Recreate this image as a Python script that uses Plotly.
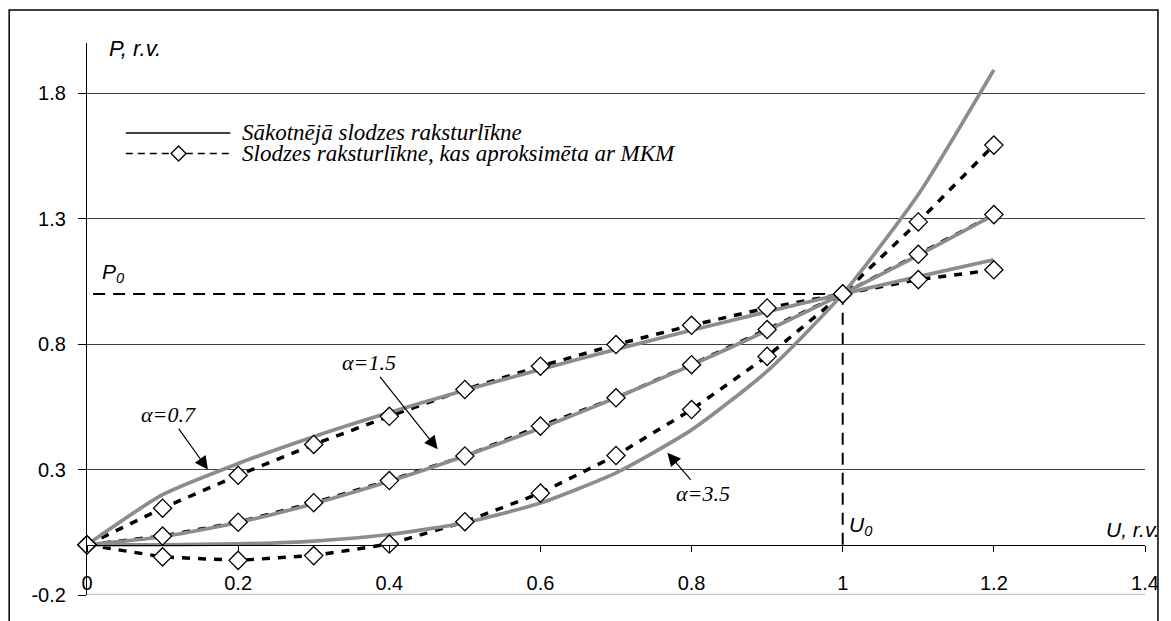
import plotly.graph_objects as go

# ---- data ----
U = [0, 0.1, 0.2, 0.3, 0.4, 0.5, 0.6, 0.7, 0.8, 0.9, 1.0, 1.1, 1.2]

orig_07 = [0, 0.20, 0.324, 0.431, 0.527, 0.616, 0.699, 0.779, 0.855, 0.929, 1.0, 1.069, 1.136]
orig_15 = [0, 0.032, 0.089, 0.164, 0.253, 0.354, 0.465, 0.586, 0.716, 0.854, 1.0, 1.154, 1.315]
orig_35 = [0, 0.0003, 0.0036, 0.015, 0.041, 0.088, 0.167, 0.287, 0.458, 0.692, 1.0, 1.396, 1.893]

mkm_07 = [0, 0.146, 0.277, 0.400, 0.512, 0.619, 0.712, 0.798, 0.875, 0.944, 1.0, 1.057, 1.096]
mkm_15 = [0, 0.035, 0.090, 0.168, 0.256, 0.354, 0.473, 0.586, 0.718, 0.858, 1.0, 1.158, 1.316]
mkm_35 = [0, -0.048, -0.062, -0.043, 0.003, 0.092, 0.206, 0.356, 0.539, 0.751, 1.0, 1.287, 1.593]

x_ticks = [0, 0.2, 0.4, 0.6, 0.8, 1.0, 1.2, 1.4]
x_ticktext = ["0", "0.2", "0.4", "0.6", "0.8", "1", "1.2", "1.4"]
y_ticks = [-0.2, 0.3, 0.8, 1.3, 1.8]
y_ticktext = ["-0.2", "0.3", "0.8", "1.3", "1.8"]

legend_labels = ["Sākotnējā slodzes raksturlīkne",
                 "Slodzes raksturlīkne, kas aproksimēta ar MKM"]
alpha_labels = ["α=0.7", "α=1.5", "α=3.5"]
alpha_text_pos = [(0.108, 0.519), (0.373, 0.725), (0.815, 0.203)]
alpha_tip_pos = [(0.16, 0.30), (0.464, 0.381), (0.768, 0.367)]

P0, U0 = 1.0, 1.0

GRAY = "#8c8c8c"
SANS = "Liberation Sans, Arial, sans-serif"
SERIF = "Liberation Serif, Times New Roman, serif"

# page has an 8px body margin -> figure is drawn 8px right/down
OFF = 8
FW, FH = 1171 - OFF, 621 - OFF

fig = go.Figure()

# dashed approximation lines (under gray curves)
for ys in (mkm_07, mkm_15, mkm_35):
    fig.add_trace(go.Scatter(x=U, y=ys, mode="lines",
                             line=dict(color="black", width=3.5, dash="8px,8px"),
                             showlegend=False, hoverinfo="skip"))
# original curves (smoothed)
for ys in (orig_07, orig_15, orig_35):
    fig.add_trace(go.Scatter(x=U, y=ys, mode="lines",
                             line=dict(color=GRAY, width=3.7, shape="spline", smoothing=0.6),
                             showlegend=False, hoverinfo="skip"))
# diamond markers
for ys in (mkm_07, mkm_15, mkm_35):
    fig.add_trace(go.Scatter(x=U, y=ys, mode="markers",
                             marker=dict(symbol="diamond", size=14, color="white",
                                         line=dict(color="black", width=1.3)),
                             cliponaxis=False, showlegend=False, hoverinfo="skip"))

# geometry helpers (page pixels -> paper coords)
L, R, T, B = 87 - OFF, 1150 - OFF, 43 - OFF, 595 - OFF
W, H = R - L, B - T
def px(xp): return (xp - OFF - L) / W
def py(yp): return (B - (yp - OFF)) / H

shapes = []
# outer frame
shapes.append(dict(type="rect", xref="paper", yref="paper",
                   x0=px(8.8), x1=px(1163), y0=py(640), y1=py(10),
                   line=dict(color="black", width=1.5), layer="above"))
# light gray bottom line at -0.2
shapes.append(dict(type="line", xref="x", yref="y", x0=0, x1=1.4, y0=-0.2, y1=-0.2,
                   line=dict(color="#c8c8c8", width=2.5), layer="above"))
# P0 / U0 guides
shapes.append(dict(type="line", xref="x", yref="y", x0=0.008, x1=U0, y0=P0, y1=P0,
                   line=dict(color="black", width=2, dash="12px,8px"), layer="below"))
shapes.append(dict(type="line", xref="x", yref="y", x0=U0, x1=U0, y0=0, y1=P0,
                   line=dict(color="black", width=2, dash="12px,8px"), layer="below"))
# legend samples
shapes.append(dict(type="line", xref="paper", yref="paper",
                   x0=px(126), x1=px(231), y0=py(133), y1=py(133),
                   line=dict(color="black", width=1.3)))
shapes.append(dict(type="line", xref="paper", yref="paper",
                   x0=px(126), x1=px(231), y0=py(153.5), y1=py(153.5),
                   line=dict(color="black", width=1.3, dash="7px,5px")))
cx, cy, hs = 179, 153.5, 7.5
shapes.append(dict(type="path", xref="paper", yref="paper",
                   path=f"M {px(cx-hs)} {py(cy)} L {px(cx)} {py(cy-hs)} L {px(cx+hs)} {py(cy)} L {px(cx)} {py(cy+hs)} Z",
                   fillcolor="white", line=dict(color="black", width=1.3)))

annotations = []
for i, lab in enumerate(legend_labels):
    annotations.append(dict(xref="paper", yref="paper", x=px(241), y=py([132, 153][i]),
                            text=f"<i>{lab}</i>", showarrow=False, xanchor="left", yanchor="middle",
                            font=dict(family=SERIF, size=23, color="black")))
for lab, (tx, ty), (hx, hy) in zip(alpha_labels, alpha_text_pos, alpha_tip_pos):
    annotations.append(dict(xref="x", yref="y", x=hx, y=hy, axref="x", ayref="y", ax=tx, ay=ty,
                            text=f"<i>{lab}</i>", showarrow=True, arrowhead=2, arrowsize=2.2,
                            arrowwidth=1.2, arrowcolor="black",
                            font=dict(family=SERIF, size=22, color="black")))
annotations.append(dict(xref="paper", yref="paper", x=px(107), y=py(48), text="<i>P, r.v.</i>",
                        showarrow=False, xanchor="left", yanchor="middle",
                        font=dict(family=SANS, size=22, color="black")))
annotations.append(dict(xref="x", yref="y", x=0.017, y=1.085, text="<i>P<sub>0</sub></i>",
                        showarrow=False, xanchor="left", yanchor="middle",
                        font=dict(family=SANS, size=21, color="black")))
annotations.append(dict(xref="x", yref="y", x=1.006, y=0.075, text="<i>U<sub>0</sub></i>",
                        showarrow=False, xanchor="left", yanchor="middle",
                        font=dict(family=SANS, size=21, color="black")))
annotations.append(dict(xref="paper", yref="y", x=px(1167), y=0.06, text="<i>U, r.v.</i>",
                        showarrow=False, xanchor="right", yanchor="middle",
                        font=dict(family=SANS, size=21, color="black")))

fig.update_layout(
    width=FW, height=FH,
    margin=dict(l=L, r=FW - R, t=T, b=FH - B),
    paper_bgcolor="white", plot_bgcolor="white",
    showlegend=False,
    shapes=shapes, annotations=annotations,
    xaxis=dict(range=[0, 1.4], tickvals=x_ticks, ticktext=x_ticktext,
               showgrid=False, zeroline=False, showline=True, linecolor="black", linewidth=1.3,
               ticks="outside", ticklen=6, tickcolor="black", tickwidth=1,
               anchor="free", position=0.2 / 2.2,
               ticklabelstandoff=14,
               tickfont=dict(family=SANS, size=20, color="black")),
    yaxis=dict(range=[-0.2, 2.0], tickvals=y_ticks, ticktext=y_ticktext,
               showgrid=True, gridcolor="#404040", gridwidth=1.3,
               zeroline=False, showline=True, linecolor="black", linewidth=1.3,
               ticks="outside", ticklen=8, tickcolor="black", tickwidth=1,
               ticklabelstandoff=8,
               tickfont=dict(family=SANS, size=20, color="black")),
)

fig.write_html("out.html")
